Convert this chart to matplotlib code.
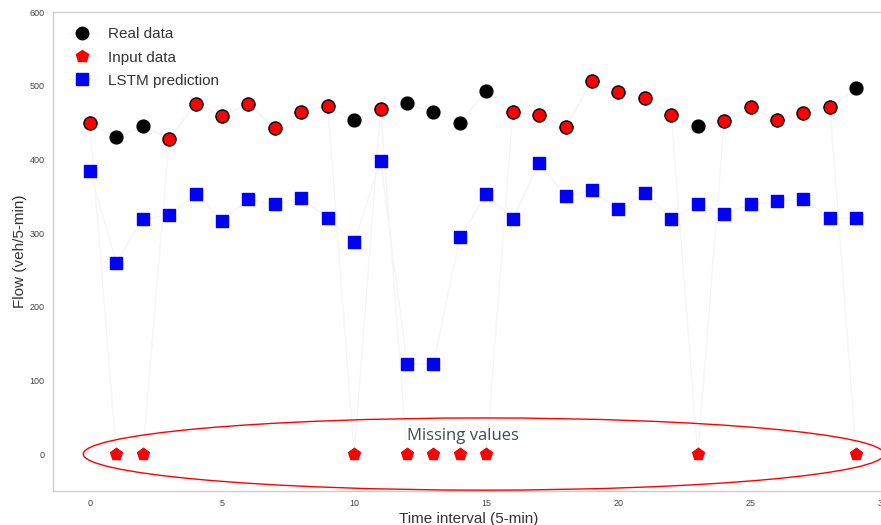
import numpy as np
import matplotlib
matplotlib.use("Agg")
import matplotlib.pyplot as plt
from matplotlib.patches import Ellipse
from matplotlib.lines import Line2D

plt.rcParams['font.family'] = ['Liberation Sans', 'DejaVu Sans']

t = list(range(30))
real = [449, 430, 445, 428, 475, 459, 475, 442, 464, 473, 453, 468, 476, 464, 450,
        493, 464, 460, 444, 506, 491, 484, 460, 445, 452, 471, 453, 463, 471, 497]
missing = [1, 2, 10, 12, 13, 14, 15, 23, 29]
inp = [0 if i in missing else real[i] for i in t]
pred = [384, 260, 319, 324, 353, 317, 346, 339, 347, 320, 288, 398, 122, 122, 294,
        353, 319, 395, 350, 358, 332, 355, 319, 339, 326, 339, 343, 346, 320, 320]

fig = plt.figure(figsize=(8.81, 5.25), dpi=100)
ax = fig.add_axes([0.060, 0.065, 0.945, 0.912])

line_c = '#f5f5f5'
ax.plot(t, real, color=line_c, lw=1, zorder=1)
ax.plot(t, inp, color=line_c, lw=1, zorder=1)
ax.plot(t, pred, color=line_c, lw=1, zorder=1)

ax.scatter(t, real, s=85, marker='o', color='black', zorder=3)
present = [i for i in t if i not in missing]
ax.scatter(present, [inp[i] for i in present], s=85, marker='o', facecolor='red',
           edgecolor='black', linewidths=0.8, zorder=4)
ax.scatter(missing, [inp[i] for i in missing], s=80, marker='p', color='red', zorder=4)
ax.scatter(t, pred, s=85, marker='s', color='blue', zorder=3)

ell = Ellipse((14.9, 0), 30.3, 98, fill=False, edgecolor='red', lw=1.0, zorder=5,
              clip_on=False)
ax.add_patch(ell)
ax.text(14.1, 24, 'Missing values', fontsize=12, color='#404a55', ha='center',
        va='center', family=['Open Sans', 'DejaVu Sans'], zorder=6)

ax.set_xlim(-1.4, 30.1)
ax.set_ylim(-50, 600)
ax.set_xticks([0, 5, 10, 15, 20, 25, 30])
ax.set_yticks([0, 100, 200, 300, 400, 500, 600])
ax.tick_params(axis='both', length=0, labelsize=6.5, labelcolor='#444444', pad=6)
for s in ax.spines.values():
    s.set_color('#cccccc')
    s.set_linewidth(1.0)
ax.set_xlabel('Time interval (5-min)', fontsize=11, color='#333333', labelpad=3)
ax.set_ylabel('Flow (veh/5-min)', fontsize=11, color='#333333', labelpad=2)

handles = [
    Line2D([], [], marker='o', color=line_c, markerfacecolor='black', markeredgecolor='black',
           markersize=9, lw=1),
    Line2D([], [], marker='p', color=line_c, markerfacecolor='red', markeredgecolor='red',
           markersize=9, lw=1),
    Line2D([], [], marker='s', color=line_c, markerfacecolor='blue', markeredgecolor='blue',
           markersize=9, lw=1),
]
leg = ax.legend(handles, ['Real data', 'Input data', 'LSTM prediction'], loc='upper left',
                frameon=False, fontsize=11, labelcolor='#333333', handlelength=1.8,
                handletextpad=0.8, borderaxespad=0.6, labelspacing=0.6)

fig.savefig('out.png', dpi=100)
